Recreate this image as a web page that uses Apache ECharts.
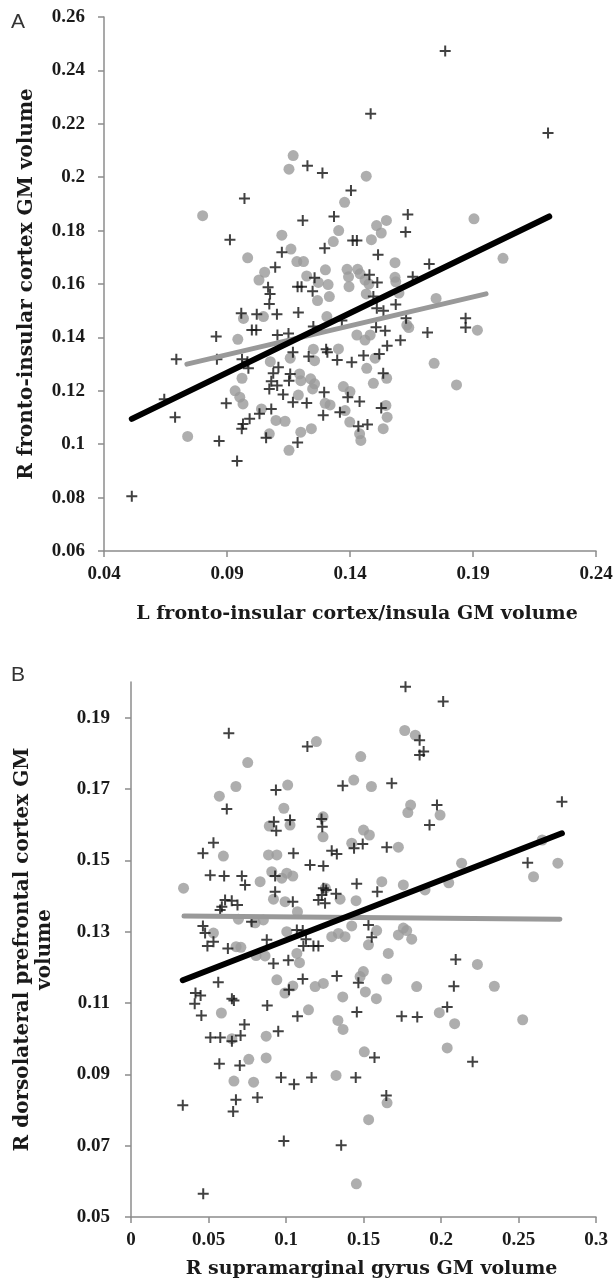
<!DOCTYPE html>
<html>
<head>
<meta charset="utf-8">
<script src="https://cdn.jsdelivr.net/npm/echarts@6/dist/echarts.min.js"></script>
<style>
html,body{margin:0;padding:0;background:#fff;}
#chart{width:616px;height:1282px;}
</style>
</head>
<body>
<div id="chart"></div>
<script>
// ---------- Panel A data ----------
const aXTicks = [0.04, 0.09, 0.14, 0.19, 0.24];
const aYTicks = [0.06, 0.08, 0.1, 0.12, 0.14, 0.16, 0.18, 0.2, 0.22, 0.24, 0.26];
const aPlus = [
[0.1787,0.2473],[0.1484,0.2238],[0.2205,0.2166],[0.1227,0.2043],[0.1288,0.2016],
[0.0971,0.192],[0.1404,0.195],[0.1335,0.1853],[0.1208,0.1838],[0.0912,0.1766],
[0.1635,0.186],[0.1626,0.1795],[0.1411,0.1763],[0.1428,0.1763],[0.1297,0.1734],
[0.1123,0.1719],[0.1514,0.171],[0.1096,0.1663],[0.1722,0.1675],[0.1479,0.1635],
[0.1511,0.1606],[0.1256,0.1623],[0.1655,0.1627],[0.1067,0.1588],[0.1075,0.1563],
[0.1072,0.1525],[0.1187,0.159],[0.1203,0.159],[0.1248,0.1573],[0.1495,0.1553],
[0.1586,0.1523],[0.1509,0.1509],[0.1536,0.15],[0.0958,0.149],[0.1021,0.1487],
[0.1103,0.1487],[0.119,0.1493],[0.187,0.1472],[0.187,0.1437],[0.1628,0.1472],
[0.1251,0.1441],[0.1367,0.1463],[0.1715,0.1418],[0.1506,0.1438],[0.1543,0.1425],
[0.1605,0.1389],[0.1105,0.1409],[0.115,0.1415],
[0.0513,0.0805],[0.0856,0.1403],[0.0694,0.1318],[0.1001,0.1428],[0.1019,0.1428],
[0.0859,0.1318],[0.0961,0.1318],[0.0983,0.1309],[0.0987,0.1284],[0.1168,0.1344],
[0.1232,0.1328],[0.1303,0.1356],[0.1308,0.1344],[0.1348,0.1315],[0.1407,0.1307],
[0.1455,0.1332],[0.1519,0.1338],[0.1551,0.1369],[0.1535,0.1266],[0.1109,0.1288],
[0.1088,0.1266],[0.1157,0.1263],[0.1152,0.1238],[0.108,0.1236],[0.1104,0.122],
[0.1072,0.1207],[0.1128,0.1186],[0.1168,0.1157],[0.1224,0.1154],[0.1295,0.1195],
[0.1391,0.1176],[0.1439,0.116],[0.1527,0.1136],[0.1359,0.112],[0.1291,0.1108],
[0.108,0.1132],[0.1032,0.1114],[0.0992,0.1095],[0.0965,0.1076],[0.096,0.1058],
[0.1434,0.1067],[0.1471,0.1074],[0.1187,0.1006],[0.1059,0.1024],[0.0868,0.1012],
[0.0897,0.1153],[0.0645,0.1168],[0.0689,0.1101],[0.0941,0.0937]
];
const aCircle = [
[0.1169,0.2081],[0.1152,0.203],[0.1466,0.2004],[0.0801,0.1856],[0.1378,0.1906],
[0.1354,0.18],[0.1904,0.1844],[0.1508,0.1819],[0.1548,0.1838],[0.1527,0.1791],
[0.1487,0.1766],[0.1123,0.1783],[0.116,0.1731],[0.1332,0.1759],[0.0984,0.1698],
[0.1184,0.1684],[0.1211,0.1684],[0.2022,0.1696],[0.1583,0.168],[0.1053,0.1644],
[0.103,0.1615],[0.13,0.1653],[0.1388,0.1655],[0.1431,0.1655],[0.1441,0.1638],
[0.1396,0.159],[0.1311,0.1598],[0.1271,0.1606],[0.1586,0.1608],[0.1477,0.16],
[0.1466,0.1563],[0.1599,0.1566],[0.1316,0.1553],[0.1268,0.1538],[0.175,0.1546],
[0.1224,0.163],[0.1394,0.1627],[0.1461,0.1615],[0.1583,0.1625],
[0.0967,0.1471],[0.1048,0.1478],[0.0944,0.1393],[0.1076,0.1309],[0.0961,0.1247],
[0.0933,0.12],[0.1306,0.1478],[0.1631,0.1446],[0.1428,0.1409],[0.1461,0.139],
[0.1482,0.1409],[0.1251,0.1356],[0.1353,0.1357],[0.1157,0.1322],[0.1502,0.1322],
[0.1468,0.1284],[0.1495,0.1228],[0.1549,0.1247],[0.124,0.1245],[0.1256,0.1226],
[0.1248,0.1207],[0.1373,0.1216],[0.14,0.1197],[0.119,0.1184],[0.1299,0.1153],
[0.1319,0.1147],[0.1256,0.1313],
[0.074,0.1029],[0.0952,0.1176],[0.0965,0.1151],[0.104,0.1132],[0.1099,0.1089],
[0.1072,0.1039],[0.1152,0.0977],[0.12,0.1045],[0.1243,0.1058],[0.1136,0.1086],
[0.12,0.1238],[0.1195,0.1263],[0.138,0.1126],[0.1399,0.1083],[0.1439,0.1039],
[0.1444,0.1014],[0.1535,0.1058],[0.1546,0.1145],[0.1551,0.1101],[0.1639,0.1437],
[0.1742,0.1303],[0.1833,0.1222],[0.1918,0.1427]
];
const aBlackFit = [[0.0513,0.1095],[0.221,0.1853]];
const aGrayFit = [[0.0737,0.13],[0.1953,0.1563]];

// ---------- Panel B data ----------
const bXTicks = [0, 0.05, 0.1, 0.15, 0.2, 0.25, 0.3];
const bYTicks = [0.05, 0.07, 0.09, 0.11, 0.13, 0.15, 0.17, 0.19];
const bPlus = [
[0.1771,0.1987],[0.2014,0.1945],[0.0631,0.1856],[0.1138,0.1819],[0.1862,0.1837],
[0.1888,0.1805],[0.1862,0.1795],[0.0935,0.1697],[0.1366,0.1709],[0.1682,0.1716],
[0.0618,0.1644],[0.278,0.1664],[0.1974,0.1655],[0.1926,0.1599],[0.1026,0.1613],
[0.0922,0.1608],[0.0937,0.1583],[0.1229,0.1616],[0.1234,0.1594],[0.0532,0.1549],
[0.0464,0.152],[0.1048,0.152],[0.1295,0.1527],[0.1328,0.1518],[0.1439,0.1534],
[0.1495,0.1546],[0.165,0.1537],[0.0511,0.1458],[0.0601,0.1456],[0.0715,0.1456],
[0.0736,0.1431],[0.093,0.1456],[0.093,0.1412],[0.1155,0.1487],[0.1241,0.1484],
[0.1456,0.1434],[0.1589,0.1412],[0.1044,0.1384],[0.1241,0.1422],[0.1259,0.1417],
[0.1231,0.1403],[0.1323,0.1406],[0.1209,0.1389],[0.1252,0.138],[0.2559,0.1493],
[0.0607,0.1389],[0.065,0.1387],[0.0687,0.1375],[0.0586,0.137],[0.0575,0.1361],
[0.0464,0.1316],[0.0478,0.1296],[0.0532,0.1272],[0.0493,0.126],[0.0625,0.1253],
[0.0778,0.1328],[0.0876,0.1277],[0.0919,0.1211],[0.1015,0.122],[0.107,0.1305],
[0.1108,0.1303],[0.1129,0.1279],[0.1112,0.126],[0.1177,0.126],[0.1209,0.126],
[0.1532,0.1319],[0.1553,0.1284],[0.2095,0.1222],[0.1108,0.1167],[0.1328,0.1176],
[0.1467,0.1157],[0.0334,0.0813],[0.0466,0.0565],[0.0416,0.1128],[0.0449,0.1121],
[0.0411,0.1098],[0.0454,0.1065],[0.0563,0.1158],[0.0651,0.1112],[0.0664,0.1107],
[0.0512,0.1003],[0.0576,0.1003],[0.0707,0.1009],[0.0651,0.0993],[0.0732,0.104],
[0.057,0.093],[0.0702,0.0925],[0.0677,0.0829],[0.0659,0.0796],[0.0816,0.0835],
[0.0879,0.1093],[0.095,0.1021],[0.1019,0.1137],[0.1074,0.1063],[0.0968,0.0891],
[0.1052,0.0872],[0.1165,0.0891],[0.0986,0.0713],[0.1457,0.1075],[0.145,0.0891],
[0.1356,0.0701],[0.1571,0.0947],[0.1647,0.0841],[0.1746,0.1063],[0.1847,0.1061],
[0.204,0.1089],[0.2083,0.1147],[0.2204,0.0935]
];
const bCircle = [
[0.1766,0.1864],[0.1834,0.1851],[0.1196,0.1833],[0.1482,0.1791],[0.0753,0.1774],
[0.1011,0.1711],[0.0677,0.1707],[0.057,0.168],[0.1437,0.1725],[0.1551,0.1707],
[0.0986,0.1646],[0.1804,0.1655],[0.1786,0.1634],[0.1994,0.1627],[0.1239,0.1622],
[0.1239,0.1566],[0.1026,0.1599],[0.0892,0.1596],[0.15,0.1585],[0.1538,0.1571],
[0.0887,0.1515],[0.0941,0.1515],[0.0596,0.1512],[0.1424,0.1548],[0.1725,0.1537],
[0.2133,0.1492],[0.2754,0.1492],[0.2597,0.1454],[0.2653,0.1557],[0.0339,0.1422],
[0.0833,0.144],[0.0908,0.1468],[0.0973,0.145],[0.1005,0.1464],[0.1044,0.1456],
[0.0919,0.1391],[0.0994,0.1384],[0.1254,0.1422],[0.1349,0.1391],[0.1452,0.1387],
[0.1618,0.144],[0.1757,0.1431],[0.1897,0.1417],[0.205,0.1437],[0.1074,0.1356],
[0.0693,0.1335],[0.0801,0.1325],[0.0854,0.1333],[0.0532,0.1296],[0.1005,0.13],
[0.1424,0.1316],[0.1295,0.1286],[0.1338,0.1295],[0.1381,0.1286],[0.1585,0.1303],
[0.1725,0.1291],[0.1757,0.131],[0.1779,0.1303],[0.1811,0.1279],[0.1532,0.1263],
[0.166,0.1239],[0.0678,0.1258],[0.0709,0.1256],[0.0807,0.1233],[0.0865,0.1232],
[0.107,0.1239],[0.1087,0.1213],[0.2235,0.1208],[0.1499,0.1188],[0.1478,0.1174],
[0.165,0.1167],[0.1241,0.1155],[0.1188,0.1146],[0.1843,0.1146],[0.0941,0.1165],
[0.0993,0.1128],[0.1044,0.1148],[0.1145,0.1081],[0.1366,0.1117],[0.1512,0.1131],
[0.1583,0.1112],[0.0583,0.1072],[0.0651,0.1],[0.076,0.0942],[0.0872,0.0946],
[0.0664,0.0881],[0.0791,0.0878],[0.0872,0.1007],[0.1335,0.1051],[0.1368,0.1026],
[0.1323,0.0897],[0.1505,0.0963],[0.1652,0.082],[0.1533,0.0773],[0.1454,0.0593],
[0.1989,0.1073],[0.2088,0.1042],[0.204,0.0974],[0.2344,0.1147],[0.2527,0.1053]
];
const bBlackFit = [[0.0334,0.1164],[0.278,0.1576]];
const bGrayFit = [[0.0342,0.1344],[0.2767,0.1335]];

// ---------- styles ----------
const AX = '#8c8c8c';
const TXT = '#1a1a1a';
const PLUS = 'path://M4.5,0H6.5V4.5H11V6.5H6.5V11H4.5V6.5H0V4.5H4.5Z';
const fmt = v => String(+(+v).toFixed(3));
const tickFont = {fontFamily:'Liberation Serif', fontWeight:'bold', fontSize:19, color:TXT};
const nameFont = {fontFamily:'DejaVu Serif', fontWeight:'bold', fontSize:19, color:TXT, lineHeight:22};

function valueAxis(o){
  return {
    type:'value', gridIndex:o.grid, min:o.min, max:o.max,
    axisLine:{show:true, onZero:false, lineStyle:{color:AX, width:1.5}},
    axisTick:{show:true, length:6, customValues:o.ticks, lineStyle:{color:AX, width:1.5}},
    axisLabel:Object.assign({customValues:o.ticks, margin:o.margin, formatter:fmt}, tickFont),
    splitLine:{show:false},
    name:o.name, nameLocation:'middle', nameGap:o.gap,
    nameTextStyle:Object.assign({}, nameFont, o.nameStyle||{})
  };
}

const chart = echarts.init(document.getElementById('chart'), null, {renderer:'canvas'});
chart.setOption({
  animation:false,
  backgroundColor:'#fff',
  grid:[
    {left:104, top:17, width:492, height:534},
    {left:131, top:682, width:465, height:535}
  ],
  xAxis:[
    valueAxis({grid:0, min:0.04, max:0.24, ticks:aXTicks, margin:14, gap:52,
      name:'L fronto-insular cortex/insula GM volume', nameStyle:{padding:[0,0,0,14]}}),
    valueAxis({grid:1, min:0, max:0.3, ticks:bXTicks, margin:14, gap:41,
      name:'R supramarginal gyrus GM volume', nameStyle:{padding:[0,0,0,16]}})
  ],
  yAxis:[
    valueAxis({grid:0, min:0.06, max:0.26, ticks:aYTicks, margin:19, gap:66,
      name:'R fronto-insular cortex GM volume', nameStyle:{fontSize:20}}),
    valueAxis({grid:1, min:0.05, max:0.2, ticks:bYTicks, margin:21, gap:75,
      name:'R dorsolateral prefrontal cortex GM\nvolume', nameStyle:{fontSize:20}})
  ],
  graphic:[
    {type:'text', left:11, top:12, style:{text:'A', font:'21px "Liberation Sans"', fill:'#333'}},
    {type:'text', left:11, top:665, style:{text:'B', font:'21px "Liberation Sans"', fill:'#333'}}
  ],
  series:[
    {type:'scatter', xAxisIndex:0, yAxisIndex:0, data:aCircle, symbol:'circle', symbolSize:11,
      itemStyle:{color:'#9a9a9a'}, z:2},
    {type:'scatter', xAxisIndex:0, yAxisIndex:0, data:aPlus, symbol:PLUS, symbolSize:11,
      itemStyle:{color:'#111'}, z:3},
    {type:'line', xAxisIndex:0, yAxisIndex:0, data:aGrayFit, symbol:'none',
      lineStyle:{color:'#999', width:5, cap:'round'}, z:4},
    {type:'line', xAxisIndex:0, yAxisIndex:0, data:aBlackFit, symbol:'none',
      lineStyle:{color:'#000', width:6, cap:'round'}, z:5},
    {type:'scatter', xAxisIndex:1, yAxisIndex:1, data:bCircle, symbol:'circle', symbolSize:11,
      itemStyle:{color:'#9a9a9a'}, z:2},
    {type:'scatter', xAxisIndex:1, yAxisIndex:1, data:bPlus, symbol:PLUS, symbolSize:11,
      itemStyle:{color:'#111'}, z:3},
    {type:'line', xAxisIndex:1, yAxisIndex:1, data:bGrayFit, symbol:'none',
      lineStyle:{color:'#999', width:5, cap:'round'}, z:4},
    {type:'line', xAxisIndex:1, yAxisIndex:1, data:bBlackFit, symbol:'none',
      lineStyle:{color:'#000', width:6, cap:'round'}, z:5}
  ]
});
</script>
</body>
</html>
